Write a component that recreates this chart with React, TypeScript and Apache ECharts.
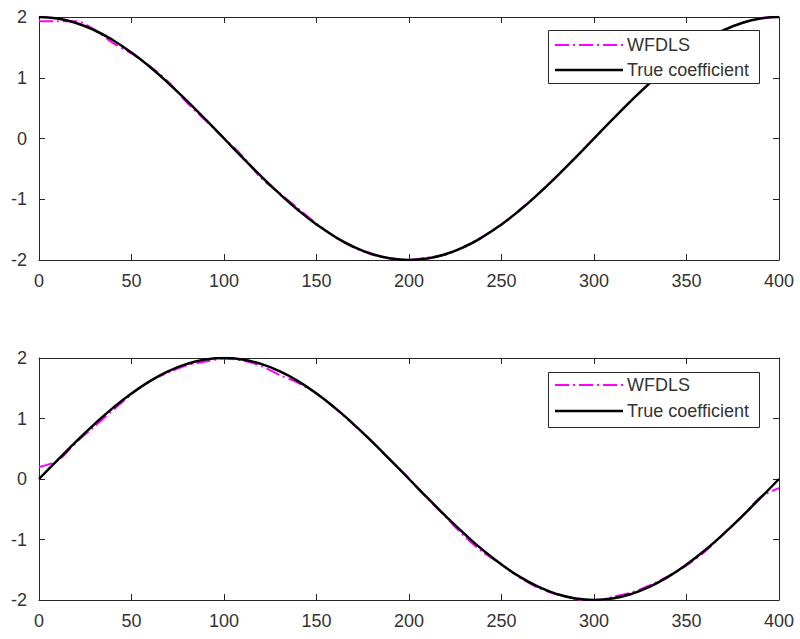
import React, { useEffect, useRef } from "react";
import * as echarts from "echarts";

const nIdx = [0,10,20,30,40,50,60,70,80,90,100,110,120,130,140,150,160,170,180,190,200,210,220,230,240,250,260,270,280,290,300,310,320,330,340,350,360,370,380,390,400];

const trueTop = [2.000,1.975,1.902,1.782,1.618,1.414,1.176,0.908,0.618,0.313,0.000,-0.313,-0.618,-0.908,-1.176,-1.414,-1.618,-1.782,-1.902,-1.975,-2.000,-1.975,-1.902,-1.782,-1.618,-1.414,-1.176,-0.908,-0.618,-0.313,0.000,0.313,0.618,0.908,1.176,1.414,1.618,1.782,1.902,1.975,2.000];
const wfdlsTop = [1.93,1.93,1.93,1.79,1.57,1.40,1.19,0.93,0.59,0.30,0.01,-0.29,-0.65,-0.90,-1.15,-1.40,-1.62,-1.79,-1.91,-1.97,-2.00,-1.96,-1.91,-1.78,-1.61,-1.42,-1.17,-0.91,-0.62,-0.31,0.00,0.31,0.62,0.91,1.18,1.41,1.62,1.78,1.90,1.98,2.00];

const trueBottom = [0.000,0.313,0.618,0.908,1.176,1.414,1.618,1.782,1.902,1.975,2.000,1.975,1.902,1.782,1.618,1.414,1.176,0.908,0.618,0.313,0.000,-0.313,-0.618,-0.908,-1.176,-1.414,-1.618,-1.782,-1.902,-1.975,-2.000,-1.975,-1.902,-1.782,-1.618,-1.414,-1.176,-0.908,-0.618,-0.313,0.000];
const wfdlsBottom = [0.20,0.30,0.60,0.87,1.14,1.40,1.62,1.76,1.88,1.94,1.99,1.96,1.87,1.72,1.59,1.41,1.17,0.90,0.62,0.31,0.01,-0.32,-0.63,-0.95,-1.21,-1.41,-1.63,-1.80,-1.91,-1.98,-2.04,-1.95,-1.88,-1.76,-1.61,-1.43,-1.20,-0.91,-0.62,-0.30,-0.15];

const legendNames = ["WFDLS", "True coefficient"];

const AX = "#262626";
const TXT = "#333333";
const FONT = "'Liberation Sans', Arial, sans-serif";
const MAGENTA = "#ff00ff";
const DASHDOT = [14, 4, 2, 4];

const pairs = (ys: number[]) => ys.map((y, i) => [nIdx[i], y]);

function makeX(grid: number, position: "top" | "bottom") {
  return {
    type: "value",
    gridIndex: grid,
    position,
    min: 0,
    max: 400,
    interval: 50,
    axisLine: { show: true, onZero: false, lineStyle: { color: AX, width: 1 } },
    axisTick: { show: true, inside: true, length: 6, lineStyle: { color: AX } },
    axisLabel: {
      show: position === "bottom",
      color: TXT,
      fontSize: 18,
      fontFamily: FONT,
      margin: 12,
      showMinLabel: true,
      showMaxLabel: true,
    },
    splitLine: { show: false },
  };
}

function makeY(grid: number, position: "left" | "right") {
  return {
    type: "value",
    gridIndex: grid,
    position,
    min: -2,
    max: 2,
    interval: 1,
    axisLine: { show: true, onZero: false, lineStyle: { color: AX, width: 1 } },
    axisTick: { show: true, inside: true, length: 6, lineStyle: { color: AX } },
    axisLabel: {
      show: position === "left",
      color: TXT,
      fontSize: 18,
      fontFamily: FONT,
      margin: 12,
      showMinLabel: true,
      showMaxLabel: true,
    },
    splitLine: { show: false },
  };
}

function legendBox(x: number, y: number, h: number, row1: number, row2: number) {
  return [
    {
      type: "rect",
      z: 100,
      shape: { x: x + 0.5, y: y + 0.5, width: 211, height: h },
      style: { fill: "#ffffff", stroke: AX, lineWidth: 1 },
    },
    {
      type: "line",
      z: 101,
      shape: { x1: x + 7, y1: row1, x2: x + 75, y2: row1 },
      style: { stroke: MAGENTA, lineWidth: 2, lineDash: DASHDOT },
    },
    {
      type: "text",
      z: 101,
      x: x + 79,
      y: row1,
      style: { text: legendNames[0], fill: TXT, font: `18px ${FONT}`, verticalAlign: "middle", align: "left" },
    },
    {
      type: "line",
      z: 101,
      shape: { x1: x + 7, y1: row2, x2: x + 75, y2: row2 },
      style: { stroke: "#000000", lineWidth: 2.5 },
    },
    {
      type: "text",
      z: 101,
      x: x + 79,
      y: row2,
      style: { text: legendNames[1], fill: TXT, font: `18px ${FONT}`, verticalAlign: "middle", align: "left" },
    },
  ];
}

export default function App() {
  const ref = useRef<HTMLDivElement>(null);
  useEffect(() => {
    if (!ref.current) return;
    const chart = echarts.init(ref.current, undefined, { renderer: "svg" });
    const wfdlsStyle = { color: MAGENTA, width: 2, type: DASHDOT as any };
    const trueStyle = { color: "#000000", width: 2.5 };
    chart.setOption({
      animation: false,
      backgroundColor: "#ffffff",
      grid: [
        { left: 39, top: 17, width: 740, height: 243 },
        { left: 39, top: 358, width: 740, height: 242 },
      ],
      xAxis: [makeX(0, "bottom"), makeX(0, "top"), makeX(1, "bottom"), makeX(1, "top")],
      yAxis: [makeY(0, "left"), makeY(0, "right"), makeY(1, "left"), makeY(1, "right")],
      series: [
        { name: legendNames[0], type: "line", xAxisIndex: 0, yAxisIndex: 0, data: pairs(wfdlsTop), showSymbol: false, smooth: 0.3, lineStyle: wfdlsStyle },
        { name: legendNames[1], type: "line", xAxisIndex: 0, yAxisIndex: 0, data: pairs(trueTop), showSymbol: false, smooth: true, lineStyle: trueStyle },
        { name: legendNames[0], type: "line", xAxisIndex: 2, yAxisIndex: 2, data: pairs(wfdlsBottom), showSymbol: false, smooth: 0.3, lineStyle: wfdlsStyle },
        { name: legendNames[1], type: "line", xAxisIndex: 2, yAxisIndex: 2, data: pairs(trueBottom), showSymbol: false, smooth: true, lineStyle: trueStyle },
      ],
      graphic: [...legendBox(548, 30, 53, 45, 70), ...legendBox(548, 372, 55, 385, 411)],
    });
    return () => chart.dispose();
  }, []);
  return (
    <div
      ref={ref}
      style={{ position: "fixed", left: 0, top: 0, width: 800, height: 639, background: "#fff" }}
    />
  );
}
